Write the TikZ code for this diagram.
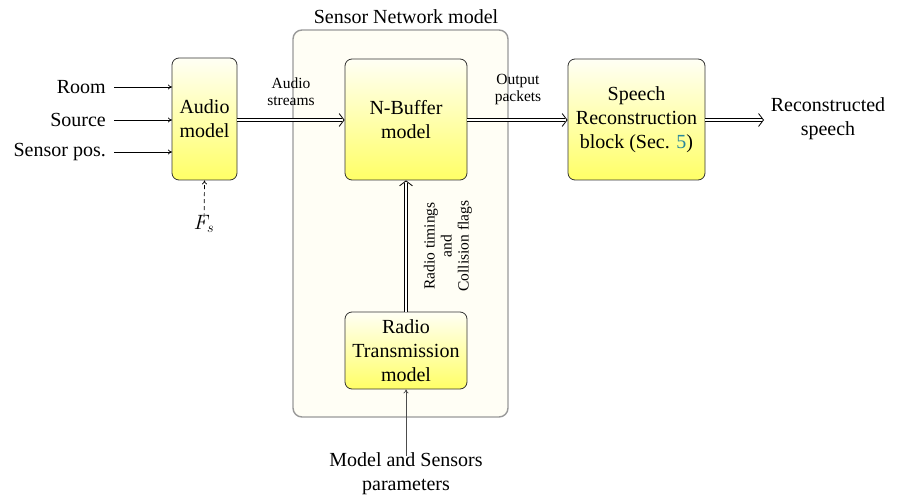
\documentclass[tikz,border=0pt]{standalone}
\usepackage{fontspec}
\setmainfont{Liberation Serif}
\usetikzlibrary{arrows.meta,decorations.markings}
\definecolor{refcol}{RGB}{40,135,155}
\begin{document}
\begin{tikzpicture}[x=1pt,y=-1pt,
  blk/.style={draw=black!80, line width=0.8pt, rounded corners=7pt, top color=yellow!4, bottom color=yellow!60, inner sep=0pt, align=center, font=\fontsize{20}{24}\selectfont},
  lbl/.style={inner sep=0pt, align=center, font=\fontsize{20}{24}\selectfont},
  sml/.style={inner sep=0pt, align=center, font=\fontsize{15.5}{17}\selectfont},
  sarr/.style={line width=0.7pt, -{To[length=4pt,width=5pt]}},
  darr/.style={line width=0.7pt, double, double distance=2.4pt, shorten >=2.5pt,
    postaction={decorate, decoration={markings, mark=at position 1 with {\arrow[line width=0.8pt]{Straight Barb[length=5pt,width=13pt]}}}}}]
\useasboundingbox (0,0) rectangle (897,497);
% container
\draw[draw=black!40, line width=1.4pt, fill=yellow!4, rounded corners=9pt] (293,30) rectangle (508,417);
\node[lbl] (title) at (406,17) {Sensor Network model};
% blocks
\node[blk, minimum width=65pt, minimum height=122pt] (audio) at (204.5,119) {Audio\\model};
\node[blk, minimum width=122pt, minimum height=121pt] (nbuf) at (406,119.5) {N-Buffer\\model};
\node[blk, minimum width=137pt, minimum height=121pt] (speech) at (636.5,119.5) {Speech\\Reconstruction\\block (Sec. \textcolor{refcol}{5})};
\node[blk, minimum width=122pt, minimum height=77pt] (radio) at (406,350.5) {Radio\\Transmission\\model};
% inputs
\node[lbl, anchor=east] (room) at (106,87) {Room};
\node[lbl, anchor=east] (source) at (106,120) {Source};
\node[lbl, anchor=east] (spos) at (106,152) {Sensor pos.};
\coordinate (rin) at (172,87);
\coordinate (sin) at (172,120);
\coordinate (pin) at (172,152);
\draw[sarr] ([xshift=8pt]room.east) -- (rin);
\draw[sarr] ([xshift=8pt]source.east) -- (sin);
\draw[sarr] ([xshift=8pt]spos.east) -- (pin);
\node[lbl] (fs) at (204,224) {$F_s$};
\draw[sarr, dashed, dash pattern=on 4pt off 3pt] ([yshift=-9pt]fs.north) -- (audio.south);
% flows
\draw[darr] (audio.east |- 0,120) -- (nbuf.west |- 0,120);
\node[sml] (astr) at (291,92) {Audio\\streams};
\draw[darr] (nbuf.east |- 0,120) -- (speech.west |- 0,120);
\node[sml] (opk) at (518,90) {Output\\packets};
\coordinate (outend) at (764,120);
\draw[darr] (speech.east |- 0,120) -- (outend);
\node[lbl] (rec) at (828,119) {Reconstructed\\speech};
\draw[darr] (radio.north) -- (nbuf.south);
\node[sml, rotate=90] (rtl) at (448,246) {Radio timings\\and\\Collision flags};
\node[lbl] (mp) at (406,474) {Model and Sensors\\parameters};
\draw[sarr, draw=black!70] ([yshift=-3pt]mp.north) -- (radio.south);
\end{tikzpicture}
\end{document}
